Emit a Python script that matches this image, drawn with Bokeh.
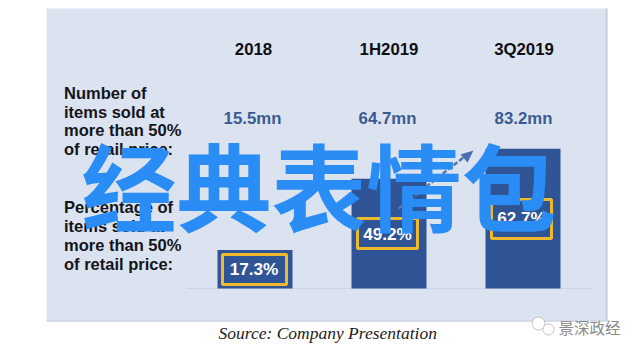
from bokeh.plotting import figure
from bokeh.embed import file_html
from bokeh.resources import INLINE
from bokeh.core.properties import value
from bokeh.models import Range1d

periods = ["2018", "1H2019", "3Q2019"]
items_sold = ["15.5mn", "64.7mn", "83.2mn"]
percent = [17.3, 49.2, 62.7]
percent_labels = ["17.3%", "49.2%", "62.7%"]
row1 = ["Number of", "items sold at", "more than 50%", "of retail price:"]
row2 = ["Percentage of", "items sold at", "more than 50%", "of retail price:"]

W, H = 632, 346
PX_PER_UNIT = 2.23
BASE = 288


def X(px):
    return px


def Y(py):
    return (BASE - py) / PX_PER_UNIT


p = figure(width=W, height=H, output_backend="svg", toolbar_location=None,
           x_range=Range1d(0, W), y_range=Range1d(Y(H), Y(0)),
           min_border=0, outline_line_color=None, background_fill_color="white",
           border_fill_color="white")
p.xaxis.visible = False
p.yaxis.visible = False
p.grid.visible = False


def txt(x, y, s, size, color, style="normal", font="Liberation Sans", align="left"):
    p.text([X(x)], [Y(y)], text=[s], text_font=value(font), text_font_size=f"{size}px",
           text_font_style=style, text_color=color, text_align=align,
           text_baseline="middle")


# panel
p.quad(left=[46], right=[607], top=[Y(8)], bottom=[Y(321)], fill_color="#dbe3f0", line_color=None)
p.quad(left=[605], right=[607], top=[Y(8)], bottom=[Y(321)], fill_color="#c9d0dc", line_color=None)
p.quad(left=[46], right=[607], top=[Y(320)], bottom=[Y(321)], fill_color="#c9d0dc", line_color=None)

# baseline
p.segment([186], [0], [592], [0], line_color="#cdd5e3", line_width=1)

# bars
centers = [254.5, 388.5, 522.5]
bar_w = 75
p.vbar(x=centers, width=bar_w, bottom=0, top=percent, fill_color="#2f5597", line_color=None)

# trend arrow
p.segment([398], [Y(208)], [468], [Y(153)], line_color="#5b76a8", line_width=2.5, line_dash="5 2")
p.patch(x=[460, 473, 467], y=[Y(154), Y(150), Y(162)], fill_color="#4a6fb0", line_color=None)

# yellow boxes
box_l = [222, 357, 491]
box_r = [286, 417, 551]
box_t = [254, 218, 199]
box_b = [284, 248, 238]
p.quad(left=box_l, right=box_r, top=[Y(v) for v in box_t], bottom=[Y(v) for v in box_b],
       fill_color=None, line_color="#efb92e", line_width=3)

# headers
for cx, s in zip([253, 388.5, 523.5], periods):
    txt(cx, 48.5, s, 16.8, "#0f0f14", "bold", align="center")
for cx, s in zip([252, 387, 523], items_sold):
    txt(cx, 117.5, s, 16.8, "#3b5a91", "bold", align="center")
for cx, cy, s in zip([253.5, 387, 521], [268, 233, 217], percent_labels):
    txt(cx, cy, s, 17.2, "white", "bold", align="center")

# row labels
for y, s in zip([92, 111, 129, 148], row1):
    txt(63.5, y, s, 16.5, "#14141a", "bold")
for y, s in zip([206, 225, 244, 263], row2):
    txt(63.5, y, s, 16.5, "#14141a", "bold")

# source
txt(218, 332.5, "Source: Company Presentation", 17.5, "#1c1c1c", "italic", font="Liberation Serif")

# watermark
txt(318.5, 183, "经典表情包", 95, "#2a8cf5", "bold", font="Noto Sans CJK SC", align="center")

# channel mark
p.circle(x=[538, 548], y=[Y(323), Y(329)], radius=[6.5, 5.5], fill_color="white",
         line_color="#c4c4c4", line_width=1)
txt(558, 326, "景深政经", 15.5, "#8a8a8a", font="Noto Sans CJK SC")

open("out.html", "w").write(file_html(p, INLINE))
